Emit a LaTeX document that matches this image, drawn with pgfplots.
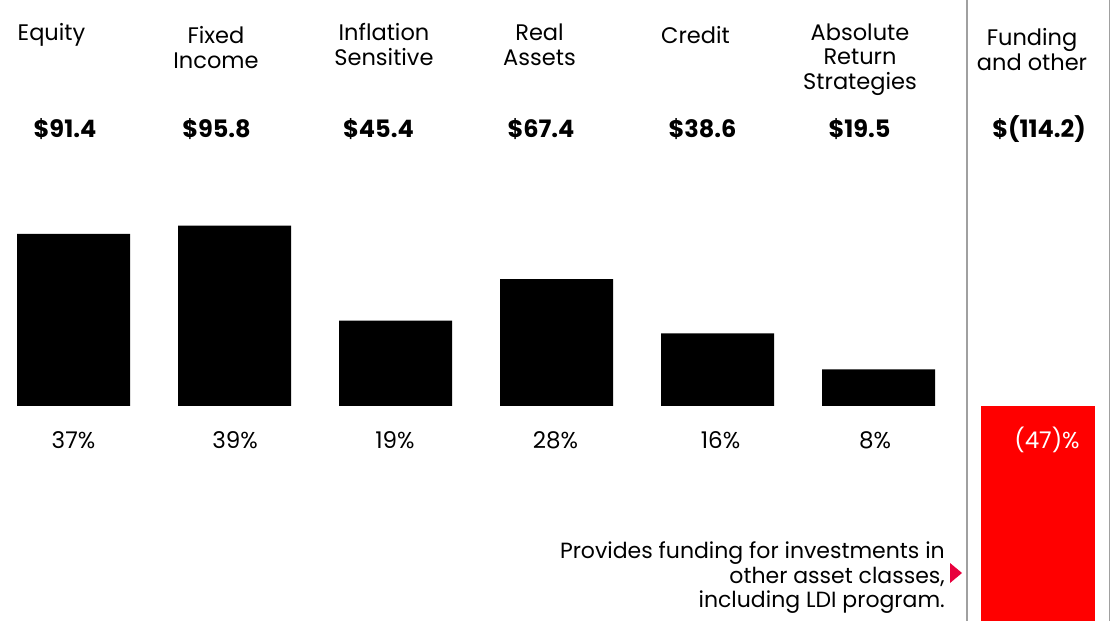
\documentclass[border=0pt]{standalone}
\usepackage{fontspec}
\setmainfont{Poppins}
\usepackage{pgfplots}
\pgfplotsset{compat=1.18}
\definecolor{barred}{HTML}{FF0000}
\definecolor{arrowred}{HTML}{E8003D}
\definecolor{linegray}{HTML}{A0A0A0}
\begin{document}
\begin{tikzpicture}[x=1pt,y=1pt,
  lab/.style={font=\fontsize{22.5}{24}\selectfont, anchor=base, inner sep=0pt},
  ann/.style={font=\fontsize{22}{24}\selectfont, anchor=base east, inner sep=0pt},
  pct/.style={font=\fontsize{23}{24}\selectfont, anchor=base, inner sep=0pt},
  val/.style={font=\fontsize{24}{24}\selectfont\bfseries, anchor=base, inner sep=0pt}]
\begin{axis}[hide axis, x=1pt, y=1.8827pt, xmin=0, xmax=1118, ymin=-114.2, ymax=215.65, clip=true]
\addplot[ybar, bar width=113, bar shift=0, fill=black, draw=none] coordinates {(73.5,91.4) (234.5,95.8) (395.5,45.4) (556.5,67.4) (717.5,38.6) (878.5,19.5)};
\addplot[ybar, bar width=114, bar shift=0, fill=barred, draw=none] coordinates {(1038,-114.2)};
\end{axis}
% separators
\draw[linegray, line width=1.5pt] (967,0) -- (967,621);
\draw[linegray, line width=1.5pt] (1109.5,0) -- (1109.5,621);
% category labels
\node[lab] at (51.5,580.5) {Equity};
\node[lab] at (216,577.5) {Fixed};
\node[lab] at (216,552.5) {Income};
\node[lab] at (384,580) {Inflation};
\node[lab] at (384,555.5) {Sensitive};
\node[lab] at (539.5,580) {Real};
\node[lab] at (539.5,555) {Assets};
\node[lab] at (695.5,577.5) {Credit};
\node[lab] at (860,580.5) {Absolute};
\node[lab] at (860,556) {Return};
\node[lab] at (860,531.5) {Strategies};
\node[lab] at (1032,575) {Funding};
\node[lab] at (1032,550.5) {and other};
% values
\node[val] at (65,483) {\$91.4};
\node[val] at (216.5,483) {\$95.8};
\node[val] at (378.5,483) {\$45.4};
\node[val] at (541,483) {\$67.4};
\node[val] at (702.5,483) {\$38.6};
\node[val] at (859.5,483) {\$19.5};
\node[val] at (1039,483) {\$(114.2)};
% percentages
\node[pct] at (73.5,172) {37\%};
\node[pct] at (235,172) {39\%};
\node[pct] at (395,172) {19\%};
\node[pct] at (555.5,172) {28\%};
\node[pct] at (720.5,172) {16\%};
\node[pct] at (875,172) {8\%};
\node[pct, text=white] at (1047,172) {(47)\%};
% annotation
\node[ann] at (945,63) {Provides funding for investments in};
\node[ann] at (945,38) {other asset classes,};
\node[ann] at (945,14) {including LDI program.};
\fill[arrowred] (950,58) -- (950,38) -- (962,48) -- cycle;
\pgfresetboundingbox
\path (0,0) rectangle (1118,621);
\end{tikzpicture}
\end{document}
